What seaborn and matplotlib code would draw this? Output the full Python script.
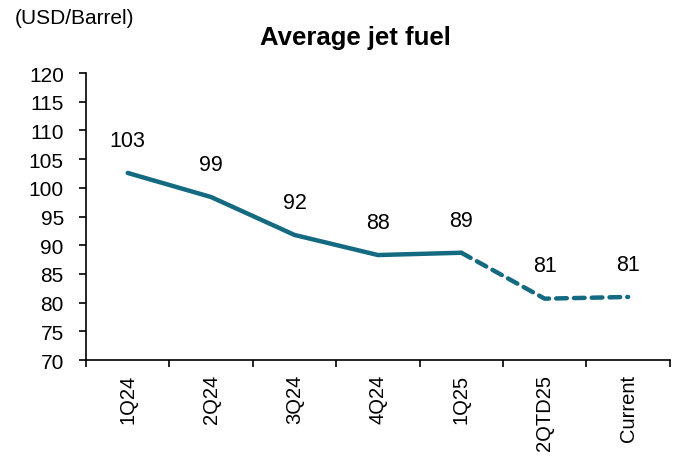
import pandas as pd
import numpy as np
import matplotlib.pyplot as plt
import seaborn as sns

# Data
periods = ['1Q24', '2Q24', '3Q24', '4Q24', '1Q25', '2QTD25', 'Current']
jet_fuel = [102.6, 98.4, 91.8, 88.3, 88.7, 80.7, 81.0]
labels = ['103', '99', '92', '88', '89', '81', '81']
n_actual = 5  # solid line up to 1Q25, dashed after

sns.set_theme(style='white')
plt.rcParams['font.family'] = ['Liberation Sans', 'DejaVu Sans']
plt.rcParams.update({'text.color': 'black', 'xtick.color': 'black',
                     'ytick.color': 'black', 'axes.labelcolor': 'black'})

LINE = '#146a80'

df = pd.DataFrame({'x': np.arange(len(periods)), 'Period': periods, 'Price': jet_fuel})

fig = plt.figure(figsize=(6.8, 4.6), dpi=100)
ax = fig.add_axes([0.1265, 0.215, 0.8585, 0.624])

sns.lineplot(data=df.iloc[:n_actual], x='x', y='Price', ax=ax, color=LINE,
             linewidth=3.2, solid_capstyle='round')
sns.lineplot(data=df.iloc[n_actual - 1:], x='x', y='Price', ax=ax, color=LINE,
             linewidth=3.2, linestyle=(0, (2.4, 1.6)), dash_capstyle='round')

for xi, yi, lab in zip(df['x'], df['Price'], labels):
    ax.annotate(lab, (xi, yi), xytext=(0, 16), textcoords='offset points',
                ha='center', va='bottom', fontsize=15.5, color='black')

ax.set_xlim(-0.5, len(periods) - 0.5)
ax.set_ylim(70, 120)
ax.set_yticks(range(70, 121, 5))
ax.set_xticks(df['x'])
ax.set_xticklabels(periods, rotation=90)
ax.set_xticks(np.arange(-0.5, len(periods)), minor=True)
ax.tick_params(axis='x', which='major', bottom=True, length=0, pad=10,
               labelsize=14.5, labelcolor='black')
ax.tick_params(axis='x', which='minor', bottom=True, length=5, width=1.2,
               direction='out', color='black')
ax.tick_params(axis='y', left=True, length=5, width=1.2, direction='out',
               color='black', labelcolor='black', labelsize=15, pad=11)
ax.set_xlabel('')
ax.set_ylabel('')

for s in ['top', 'right']:
    ax.spines[s].set_visible(False)
for s in ['left', 'bottom']:
    ax.spines[s].set_color('black')
    ax.spines[s].set_linewidth(1.2)

fig.text(0.523, 0.918, 'Average jet fuel', ha='center', va='center',
         fontsize=18.5, fontweight='bold', color='black')
fig.text(0.022, 0.96, '(USD/Barrel)', ha='left', va='center', fontsize=15,
         color='black')

plt.savefig('out.png', dpi=100)
plt.close()
